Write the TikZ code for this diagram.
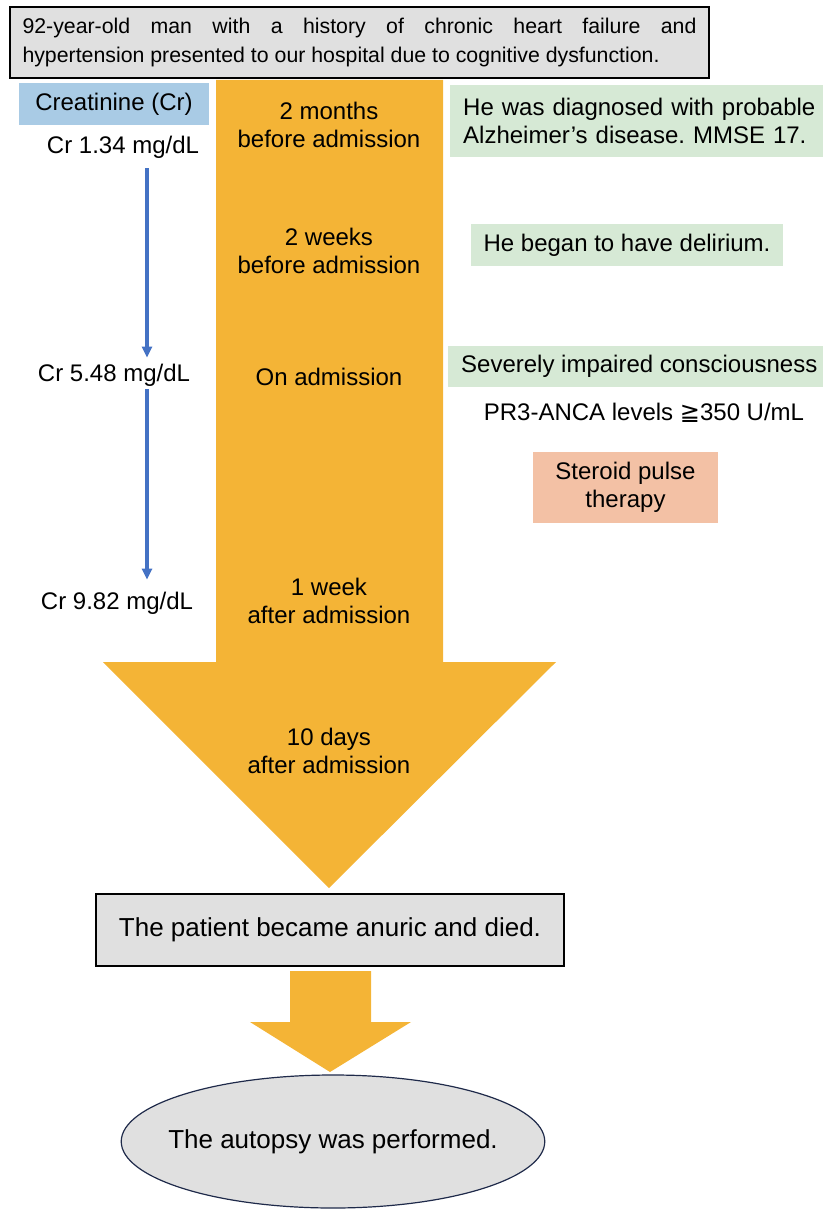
\documentclass[tikz,border=0pt]{standalone}
\usepackage{fontspec}
\setmainfont{Liberation Sans}
\newfontfamily\symfont{DejaVu Sans}
\usetikzlibrary{arrows.meta, positioning, shapes.geometric}
\definecolor{flowfill}{HTML}{F4B436}
\definecolor{boxgrey}{HTML}{E0E0E0}
\definecolor{crblue}{HTML}{A9CBE5}
\definecolor{notegreen}{HTML}{D6E9D5}
\definecolor{therapy}{HTML}{F3C1A5}
\definecolor{linkblue}{HTML}{4472C4}
\definecolor{rimnavy}{HTML}{1F2A4A}
\frenchspacing

\begin{document}
\begin{tikzpicture}[x=1pt, y=-1pt,
      txt/.style={font=\fontsize{24}{28.5}\selectfont, align=center, inner sep=0pt},
      greybox/.style={txt, draw=black, line width=1.6pt, fill=boxgrey},
      note/.style={txt, fill=notegreen, inner xsep=13pt},
      flow/.style={fill=flowfill, draw=none},
      link/.style={-{Triangle[length=11pt, width=10pt]}, linkblue, line width=3.4pt}
    ]
    \useasboundingbox (0,0) rectangle (822,1209);
    \path[flow] (216,80) -- (443,80) -- (443,662) -- (556,662) -- (329,888)
      -- (103,662) -- (216,662) -- cycle;
    \path[flow] (290,971) -- (371,971) -- (371,1022) -- (411,1022) -- (330,1072)
      -- (250,1022) -- (290,1022) -- cycle;

    \node[greybox, text width=674pt, inner xsep=12.5pt, minimum height=71pt,
      align=justify, font=\fontsize{21.3}{29}\selectfont] (history) at (359.5,42.5)
      {\hyphenpenalty=10000\relax\exhyphenpenalty=10000\relax
       92-year-old man with a history of chronic heart failure and\linebreak
       hypertension presented to our hospital due to cognitive dysfunction.};

    \node[txt, fill=crblue, minimum width=190pt, minimum height=42pt] (creat) at (114,104) {Creatinine (Cr)};
    \node[txt] (cr1) at (123,147) {Cr 1.34 mg/dL};
    \node[txt] (cr2) at (114,375) {Cr 5.48 mg/dL};
    \node[txt] (cr3) at (117,603) {Cr 9.82 mg/dL};
    \coordinate (crline) at (147,0);
    \draw[link, shorten <=10pt, shorten >=6pt] (cr1.south -| crline) -- (cr2.north -| crline);
    \draw[link, shorten <=3pt, shorten >=12pt] (cr2.south -| crline) -- (cr3.north -| crline);

    \node[txt] (t1) at (329,125) {2 months\\before admission};
    \node[txt] (t2) at (329,251) {2 weeks\\before admission};
    \node[txt] (t3) at (329,377) {On admission};
    \node[txt] (t4) at (329,601) {1 week\\after admission};
    \node[txt] (t5) at (329,751) {10 days\\after admission};

    \node[note, anchor=west, text width=380pt, align=left, minimum height=72pt] (dx) at (450,121)
      {He was diagnosed with probable\\Alzheimer’s disease. MMSE 17.};
    \node[note, minimum width=310pt, minimum height=42pt] (delir) at (627,245) {He began to have delirium.};
    \node[note, anchor=west, minimum width=380pt, minimum height=41pt] (consc) at (448,366.5)
      {Severely impaired consciousness};
    \node[txt] (anca) at (644,413) {PR3-ANCA levels {\symfont ≧}350 U/mL};
    \node[txt, fill=therapy, minimum width=185pt, minimum height=71pt] (pulse) at (625.5,487.5)
      {Steroid pulse\\therapy};

    \node[greybox, line width=1.4pt, minimum width=468pt, minimum height=72pt,
      font=\fontsize{26}{30}\selectfont] (died) at (330,930)
      {The patient became anuric and died.};
    \node[txt, ellipse, draw=rimnavy, line width=1.2pt, fill=boxgrey, inner xsep=-15pt,
      minimum width=422pt, minimum height=133pt, font=\fontsize{26}{30}\selectfont]
      (autopsy) at (333,1141.5) {The autopsy was performed.};
    \end{tikzpicture}
\end{document}
